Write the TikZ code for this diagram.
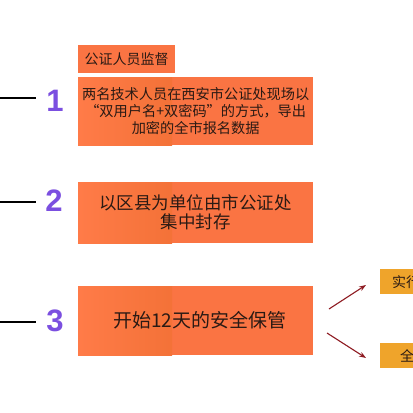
\documentclass[tikz,border=0pt]{standalone}
\usepackage{fontspec}
\newfontfamily\cjk{Noto Sans CJK SC}
\newfontfamily\numfont{Liberation Sans}
\usetikzlibrary{arrows.meta}
\definecolor{boxor}{HTML}{FA7443}
\definecolor{boxlight}{HTML}{FF7B48}
\definecolor{boxdark}{HTML}{E2641F}
\definecolor{goldc}{HTML}{EFA42B}
\definecolor{purp}{HTML}{7B4FE0}
\definecolor{txtc}{HTML}{2A1A14}
\definecolor{arrc}{HTML}{8E1B22}
\begin{document}
\begin{tikzpicture}[x=1pt,y=-1pt,
  mainbox/.style={fill=boxor, anchor=north west, inner sep=0pt, align=center, text=txtc,
    minimum width=235pt,
    path picture={\shade[left color=boxlight, right color=boxdark]
      (path picture bounding box.north west) rectangle ([xshift=94pt]path picture bounding box.south west);}},
  labelbox/.style={fill=boxor, anchor=north west, inner sep=0pt, text=txtc, minimum width=97pt, minimum height=28pt, font=\cjk\fontsize{14}{17}\selectfont},
  goldbox/.style={fill=goldc, anchor=north west, minimum height=25pt, text=txtc, font=\cjk\fontsize{14}{17}\selectfont},
  num/.style={text=purp, font=\numfont\bfseries\fontsize{31}{31}\selectfont, inner sep=0pt},
  stub/.style={line width=2pt, black},
  arrline/.style={line width=1.1pt, arrc, -{Stealth[length=7pt,width=5pt]}}
]
\useasboundingbox (0,0) rectangle (413,413);
\clip (0,0) rectangle (413,413);
\fill[white] (0,0) rectangle (413,413);

% label
\node[labelbox] (lab) at (78,45) {公证人员监督};

% main boxes
\node[mainbox, minimum height=68pt, font=\cjk\fontsize{14.2}{17}\selectfont] (b1) at (78,77)
  {两名技术人员在西安市公证处现场以\\“双用户名+双密码”的方式，导出\\加密的全市报名数据};
\node[mainbox, minimum height=61pt, font=\cjk\fontsize{17.5}{19}\selectfont] (b2) at (78,182)
  {以区县为单位由市公证处\\集中封存};
\node[mainbox, minimum height=69pt, font=\cjk\fontsize{19}{22}\selectfont] (b3) at (78,286)
  {\hspace*{8pt}开始12天的安全保管};

% numbers
\node[num] (n1) at (55,101) {1};
\node[num] (n2) at (54,201) {2};
\node[num] (n3) at (55,321) {3};

% stubs
\coordinate (s1) at (0,98);  \coordinate (e1) at (36,98);
\coordinate (s2) at (0,202); \coordinate (e2) at (36,202);
\coordinate (s3) at (0,322); \coordinate (e3) at (36,322);
\draw[stub] (s1) -- (e1);
\draw[stub] (s2) -- (e2);
\draw[stub] (s3) -- (e3);

% right boxes
\node[goldbox, inner xsep=12pt, inner ysep=0pt] (r1) at (380,269) {实行};
\node[goldbox, inner xsep=20pt, inner ysep=0pt] (r2) at (380,343) {全};

% arrows
\coordinate (a1) at (329,309); \coordinate (a1e) at (366,285);
\coordinate (a2) at (327,333); \coordinate (a2e) at (366,358);
\draw[arrline] (a1) -- (a1e);
\draw[arrline] (a2) -- (a2e);
\end{tikzpicture}
\end{document}
